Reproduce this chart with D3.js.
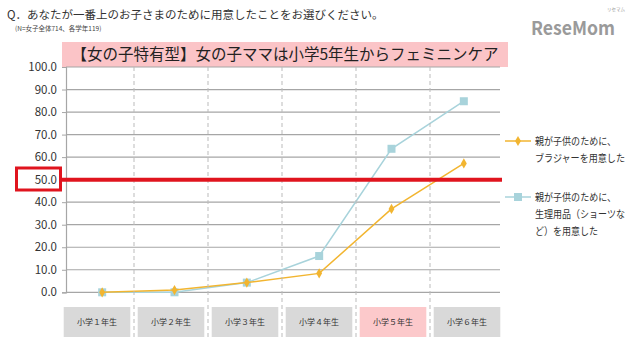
<!DOCTYPE html>
<html>
<head>
<meta charset="utf-8">
<script src="https://cdn.jsdelivr.net/npm/d3@7/dist/d3.min.js"></script>
<style>
  body { margin: 0; background: #fff; }
  text { font-family: "Noto Sans CJK JP", "Noto Sans", sans-serif; }
</style>
</head>
<body>
<div id="chart"></div>
<script>
// data
var grades = ["小学１年生", "小学２年生", "小学３年生", "小学４年生", "小学５年生", "小学６年生"];
var braValues = [0.0, 1.0, 4.3, 8.4, 37.0, 57.2];
var padValues = [0.0, 0.0, 4.3, 16.1, 63.7, 84.8];
var yTicks = [0, 10, 20, 30, 40, 50, 60, 70, 80, 90, 100];
var highlightGrade = "小学５年生";
var thresholdValue = 50;
var legendBra = ["親が子供のために、", "ブラジャーを用意した"];
var legendPad = ["親が子供のために、", "生理用品（ショーツな", "ど）を用意した"];

var W = 640, H = 352;
var margin = { top: 67, left: 66, right: 140, bottom: 60 };
var plotW = 500 - margin.left, plotH = 292.3 - margin.top;

var svg = d3.select("#chart").append("svg")
    .attr("width", W).attr("height", H);

// header
svg.append("text").attr("x", 7).attr("y", 19)
    .attr("font-size", 11.5).attr("fill", "#333")
    .text("Q．あなたが一番上のお子さまのために用意したことをお選びください。");
svg.append("text").attr("x", 15).attr("y", 31)
    .attr("font-size", 6.5).attr("fill", "#444")
    .text("(N=女子全体714、各学年119)");

// logo
svg.append("text").attr("x", 531).attr("y", 35)
    .attr("font-size", 19).attr("font-weight", "bold")
    .attr("font-family", "Roboto, sans-serif")
    .attr("fill", "#9a9a9a")
    .attr("textLength", 84).attr("lengthAdjust", "spacingAndGlyphs")
    .text("ReseMom");
svg.append("text").attr("x", 607).attr("y", 11)
    .attr("font-size", 4.5).attr("fill", "#999")
    .text("リセマム");

// title box
svg.append("rect").attr("x", 62).attr("y", 42).attr("width", 446).attr("height", 25)
    .attr("fill", "#fbc4c7");
svg.append("text").attr("x", 285).attr("y", 60).attr("text-anchor", "middle")
    .attr("font-size", 15.5).attr("fill", "#222")
    .text("【女の子特有型】女の子ママは小学5年生からフェミニンケア");

var g = svg.append("g").attr("transform", "translate(" + margin.left + "," + margin.top + ")");

// scales
var x = d3.scaleBand().domain(grades).range([0, plotW]);
var y = d3.scaleLinear().domain([0, 100]).range([plotH, 0]);
var xBox = d3.scaleBand().domain(grades).range([60, 504]).paddingInner(0.1).paddingOuter(0.05);

// grid lines
g.selectAll(".grid").data(yTicks.slice(1)).enter().append("line")
    .attr("x1", 0).attr("x2", plotW)
    .attr("y1", function(d) { return y(d); }).attr("y2", function(d) { return y(d); })
    .attr("stroke", "#a6a6a6").attr("stroke-width", 1.2);

// y axis
var yAxis = d3.axisLeft(y).tickValues(yTicks).tickSize(4).tickFormat(d3.format(".1f"));
var yg = g.append("g").call(yAxis);
yg.select(".domain").attr("stroke", "#a6a6a6").attr("stroke-width", 1.2);
yg.selectAll(".tick line").attr("stroke", "#a6a6a6");
yg.selectAll(".tick text").attr("font-size", 11.5).attr("fill", "#333").attr("x", -9)
    .attr("font-family", "Liberation Sans, Arial, sans-serif");

// bottom axis line
g.append("line").attr("x1", 0).attr("x2", plotW).attr("y1", plotH).attr("y2", plotH)
    .attr("stroke", "#a6a6a6").attr("stroke-width", 1.2);

// dashed separators
var seps = grades.slice(1).map(function(d) { return xBox(d) - xBox.step() * xBox.paddingInner() / 2; });
svg.selectAll(".sep").data(seps).enter().append("line")
    .attr("x1", function(d) { return d; }).attr("x2", function(d) { return d; })
    .attr("y1", margin.top).attr("y2", 337)
    .attr("stroke", "#bbb").attr("stroke-width", 1).attr("stroke-dasharray", "4,3");

// category boxes
svg.selectAll(".cat").data(grades).enter().append("rect")
    .attr("x", function(d) { return xBox(d); })
    .attr("y", 307).attr("width", xBox.bandwidth()).attr("height", 30)
    .attr("fill", function(d) { return d === highlightGrade ? "#fcc9cb" : "#d9d9d9"; });
svg.selectAll(".catlabel").data(grades).enter().append("text")
    .attr("x", function(d) { return xBox(d) + xBox.bandwidth() / 2; })
    .attr("y", 325).attr("text-anchor", "middle")
    .attr("font-size", 8).attr("fill", "#333")
    .text(function(d) { return d; });

// threshold line + highlighted label
svg.append("line").attr("x1", 61).attr("x2", 502)
    .attr("y1", margin.top + y(thresholdValue)).attr("y2", margin.top + y(thresholdValue))
    .attr("stroke", "#e0141e").attr("stroke-width", 4);
svg.append("rect").attr("x", 16.5).attr("y", 168).attr("width", 44).attr("height", 22)
    .attr("fill", "none").attr("stroke", "#e0141e").attr("stroke-width", 3);

// series
var line = d3.line()
    .x(function(d, i) { return x(grades[i]) + x.bandwidth() / 2; })
    .y(function(d) { return y(d); });

var padColor = "#a8d3db", braColor = "#f2b530";

g.append("path").datum(padValues).attr("d", line)
    .attr("fill", "none").attr("stroke", padColor).attr("stroke-width", 1.5);
g.selectAll(".padpt").data(padValues).enter().append("rect")
    .attr("x", function(d, i) { return x(grades[i]) + x.bandwidth() / 2 - 4; })
    .attr("y", function(d) { return y(d) - 4; })
    .attr("width", 8).attr("height", 8).attr("fill", padColor);

g.append("path").datum(braValues).attr("d", line)
    .attr("fill", "none").attr("stroke", braColor).attr("stroke-width", 1.5);
var diamond = d3.symbol().type(d3.symbolDiamond).size(30);
g.selectAll(".brapt").data(braValues).enter().append("path")
    .attr("d", diamond)
    .attr("transform", function(d, i) { return "translate(" + (x(grades[i]) + x.bandwidth() / 2) + "," + y(d) + ")"; })
    .attr("fill", braColor);

// legend
var legend = [
    { lines: legendBra, color: braColor, y: 141, marker: "diamond" },
    { lines: legendPad, color: padColor, y: 197, marker: "square" }
];
legend.forEach(function(item) {
    svg.append("line").attr("x1", 505).attr("x2", 531).attr("y1", item.y).attr("y2", item.y)
        .attr("stroke", item.color).attr("stroke-width", 1.5);
    if (item.marker === "diamond") {
        svg.append("path").attr("d", diamond).attr("transform", "translate(518," + item.y + ")")
            .attr("fill", item.color);
    } else {
        svg.append("rect").attr("x", 514).attr("y", item.y - 4).attr("width", 8).attr("height", 8)
            .attr("fill", item.color);
    }
    item.lines.forEach(function(t, i) {
        var tx = svg.append("text").attr("x", 535).attr("y", item.y + 4 + i * 17)
            .attr("font-size", 10.5).attr("fill", "#333").text(t);
        // the original legend uses a narrow font; squeeze lines to its width
        var w = tx.node().getComputedTextLength();
        var maxW = t.length * 9;
        if (w > maxW) tx.attr("textLength", maxW).attr("lengthAdjust", "spacingAndGlyphs");
    });
});
</script>
</body>
</html>
